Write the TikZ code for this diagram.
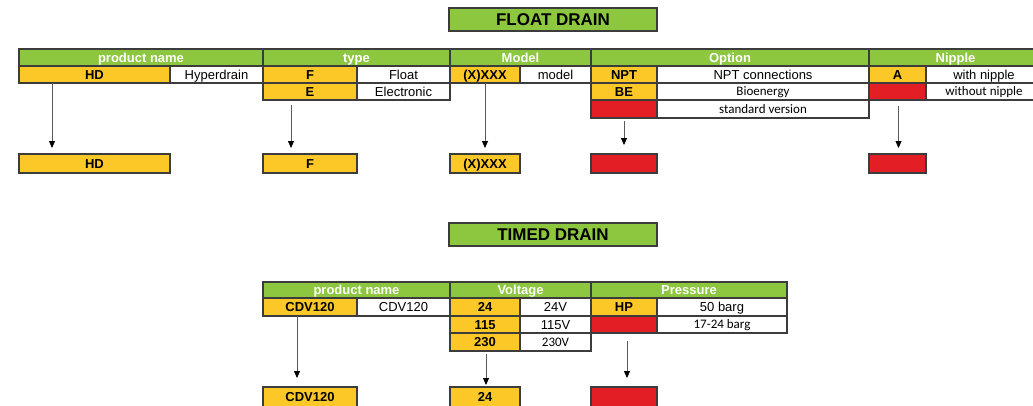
\documentclass[tikz,border=0pt]{standalone}
\usepackage{fontspec}
\setmainfont{Liberation Sans}
\newfontfamily\calib{Carlito}
\usetikzlibrary{arrows.meta}
\definecolor{hgreen}{RGB}{141,198,63}
\definecolor{hyellow}{RGB}{252,200,40}
\definecolor{hred}{RGB}{227,30,36}
\definecolor{bord}{RGB}{60,60,60}
\definecolor{arrgray}{RGB}{90,90,90}
\tikzset{
  base/.style={draw=bord, line width=1.1pt, inner sep=0pt, outer sep=0pt, text height=9.3pt, text depth=0pt, font=\fontsize{13}{15}\selectfont},
  hdr/.style={base, fill=hgreen, text=white, font=\fontsize{13}{15}\selectfont\bfseries},
  code/.style={base, fill=hyellow, font=\fontsize{13}{15}\selectfont\bfseries},
  redc/.style={base, fill=hred},
  txt/.style={base, fill=white},
  ctxt/.style={base, fill=white, text height=8.6pt, font=\fontsize{13}{15}\selectfont\calib},
  ttl/.style={base, fill=hgreen, text height=12.2pt, font=\fontsize{17}{19}\selectfont\bfseries},
  arr/.style={draw=arrgray, line width=0.8pt, -{Triangle[length=7pt,width=6pt,fill=black,color=black]}}
}
\newcommand\cellbox[7]{\node[#6, minimum width={(#4-#2)*1pt}, minimum height={(#5-#3)*1pt}] (#1) at ({(#2+#4)/2},{(#3+#5)/2}) {#7};}
\begin{document}
\begin{tikzpicture}[x=1pt,y=-1pt]
\useasboundingbox (0,0) rectangle (1033,405);
\clip (0,0) rectangle (1033,405);
\fill[white] (0,0) rectangle (1033,405);
% FLOAT DRAIN
\cellbox{ftitle}{449}{8}{657}{31}{ttl}{FLOAT DRAIN}
\cellbox{hpn}{19}{49}{263}{66}{hdr}{product name}
\cellbox{htype}{263}{49}{450}{66}{hdr}{type}
\cellbox{hmodel}{450}{49}{591}{66}{hdr}{Model}
\cellbox{hopt}{591}{49}{869}{66}{hdr}{Option}
\cellbox{hnip}{869}{49}{1042}{66}{hdr}{Nipple}
% row 1
\cellbox{hd}{19}{66}{170}{83}{code}{HD}
\cellbox{hyper}{170}{66}{263}{83}{txt}{Hyperdrain}
\cellbox{f}{263}{66}{357}{83}{code}{F}
\cellbox{float}{357}{66}{450}{83}{txt}{Float}
\cellbox{xxx}{450}{66}{520}{83}{code}{(X)XXX}
\cellbox{model}{520}{66}{591}{83}{txt}{model}
\cellbox{npt}{591}{66}{657}{83}{code}{NPT}
\cellbox{nptc}{657}{66}{869}{83}{txt}{NPT connections}
\cellbox{a}{869}{66}{926}{83}{code}{A}
\cellbox{withn}{926}{66}{1042}{83}{txt}{with nipple}
% row 2
\cellbox{e}{263}{83}{357}{100}{code}{E}
\cellbox{elec}{357}{83}{450}{100}{txt}{Electronic}
\cellbox{be}{591}{83}{657}{100}{code}{BE}
\cellbox{bio}{657}{83}{869}{100}{ctxt}{Bioenergy}
\cellbox{nipred}{869}{83}{926}{100}{redc}{}
\cellbox{withoutn}{926}{83}{1042}{100}{ctxt}{without nipple}
% row 3
\cellbox{std}{591}{100}{657}{118}{redc}{}
\cellbox{stdt}{657}{100}{869}{118}{ctxt}{standard version}
% bottom
\cellbox{bhd}{19}{154}{170}{173}{code}{HD}
\cellbox{bf}{263}{154}{357}{173}{code}{F}
\cellbox{bxxx}{450}{154}{520}{173}{code}{(X)XXX}
\cellbox{bopt}{591}{154}{657}{173}{redc}{}
\cellbox{bnip}{869}{154}{926}{173}{redc}{}
% arrows
\draw[arr] ([xshift=33pt]hd.south west) -- ([xshift=33pt,yshift=6pt]bhd.north west);
\draw[arr] ([xshift=28pt,yshift=-5pt]e.south west) -- ([xshift=28pt,yshift=6pt]bf.north west);
\draw[arr] (xxx.south) -- ([yshift=6pt]bxxx.north);
\draw[arr] ([yshift=-3pt]std.south) -- ([yshift=9pt]bopt.north);
\draw[arr] ([xshift=1pt,yshift=-6pt]nipred.south) -- ([xshift=1pt,yshift=6pt]bnip.north);
% TIMED DRAIN
\cellbox{ttitle}{449}{223}{657}{246}{ttl}{TIMED DRAIN}
\cellbox{tpn}{263}{282}{450}{298}{hdr}{product name}
\cellbox{tvolt}{450}{282}{591}{298}{hdr}{Voltage}
\cellbox{tpres}{591}{282}{787}{298}{hdr}{Pressure}
\cellbox{cdv}{263}{298}{357}{316}{code}{CDV120}
\cellbox{cdvt}{357}{298}{450}{316}{txt}{CDV120}
\cellbox{v24}{450}{298}{520}{316}{code}{24}
\cellbox{v24t}{520}{298}{591}{316}{txt}{24V}
\cellbox{hp}{591}{298}{657}{316}{code}{HP}
\cellbox{hpt}{657}{298}{787}{316}{txt}{50 barg}
\cellbox{v115}{450}{316}{520}{333}{code}{115}
\cellbox{v115t}{520}{316}{591}{333}{txt}{115V}
\cellbox{pred}{591}{316}{657}{333}{redc}{}
\cellbox{predt}{657}{316}{787}{333}{ctxt}{17-24 barg}
\cellbox{v230}{450}{333}{520}{351}{code}{230}
\cellbox{v230t}{520}{333}{591}{351}{ctxt}{230V}
\cellbox{bcdv}{263}{387}{357}{407}{code}{CDV120}
\cellbox{b24}{450}{387}{520}{407}{code}{24}
\cellbox{bpres}{591}{387}{657}{407}{redc}{}
\draw[arr] ([xshift=34pt]cdv.south west) -- ([xshift=34pt,yshift=9pt]bcdv.north west);
\draw[arr] ([xshift=1pt,yshift=-3pt]v230.south) -- ([xshift=1pt,yshift=2pt]b24.north);
\draw[arr] ([xshift=3pt,yshift=-8pt]pred.south) -- ([xshift=3pt,yshift=9pt]bpres.north);
\end{tikzpicture}
\end{document}
